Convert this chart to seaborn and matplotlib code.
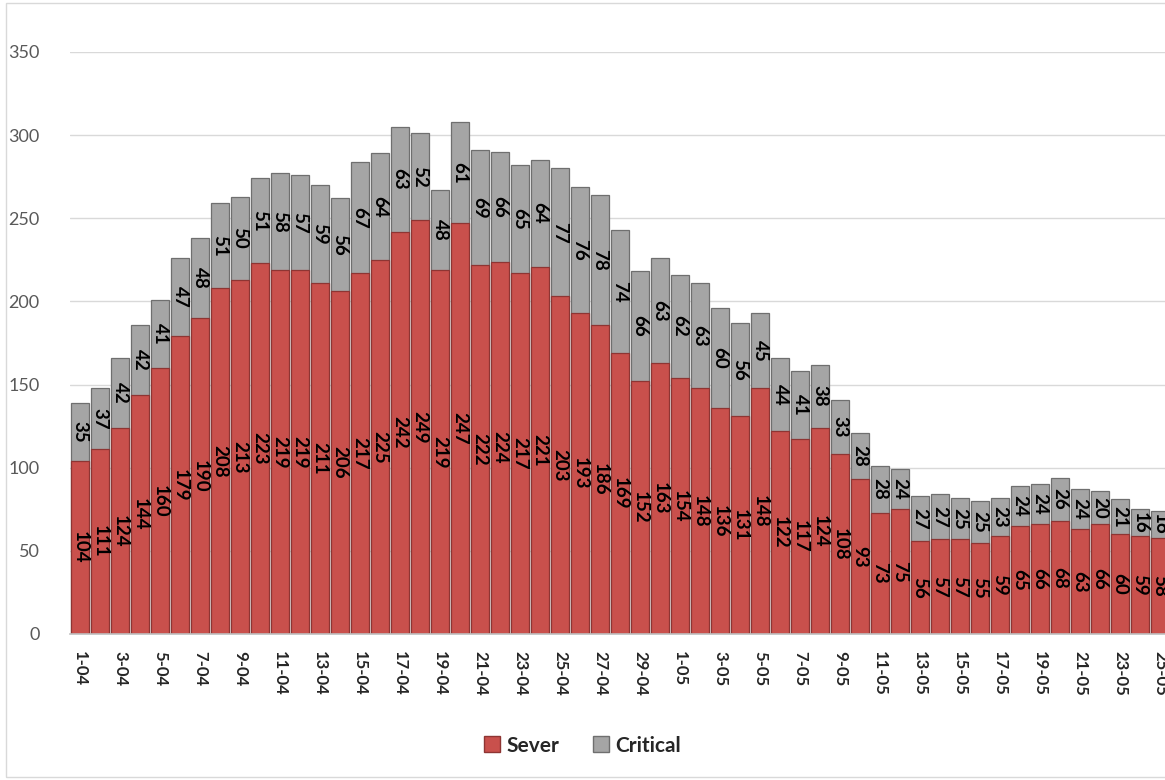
import numpy as np
import pandas as pd
import matplotlib
matplotlib.use('Agg')
import matplotlib.pyplot as plt
import seaborn as sns
from matplotlib.patches import Rectangle, Patch

# dates: 1-04 .. 30-04, 1-05 .. 25-05
days = [f'{d}-04' for d in range(1, 31)] + [f'{d}-05' for d in range(1, 26)]

sever = [104, 111, 124, 144, 160, 179, 190, 208, 213, 223,
         219, 219, 211, 206, 217, 225, 242, 249, 219, 247,
         222, 224, 217, 221, 203, 193, 186, 169, 152, 163,
         154, 148, 136, 131, 148, 122, 117, 124, 108, 93,
         73, 75, 56, 57, 57, 55, 59, 65, 66, 68,
         63, 66, 60, 59, 58]
critical = [35, 37, 42, 42, 41, 47, 48, 51, 50, 51,
            58, 57, 59, 56, 67, 64, 63, 52, 48, 61,
            69, 66, 65, 64, 77, 76, 78, 74, 66, 63,
            62, 63, 60, 56, 45, 44, 41, 38, 33, 28,
            28, 24, 27, 27, 25, 25, 23, 24, 24, 26,
            24, 20, 21, 16, 16]

df = pd.DataFrame({'date': days, 'Sever': sever, 'Critical': critical})
df['total'] = df['Sever'] + df['Critical']

RED = '#C9504C'
GREY = '#A5A5A5'

sns.set_style('white')
plt.rcParams['font.family'] = ['Lato', 'DejaVu Sans']

fig = plt.figure(figsize=(11.65, 7.8), dpi=100)
ax = fig.add_axes([70/1165, 146/780, 1 - 70/1165, (634 - 52)/780])

sns.barplot(data=df, x='date', y='total', color=GREY, width=0.9, saturation=1,
            edgecolor='#6F6F6F', linewidth=0.9, ax=ax)
sns.barplot(data=df, x='date', y='Sever', color=RED, width=0.9, saturation=1,
            edgecolor='#8E3533', linewidth=0.9, ax=ax)

# data labels, centred in each segment
for i, (s, c) in enumerate(zip(sever, critical)):
    ax.text(i, s / 2, str(s), rotation=-90, ha='center', va='center',
            fontsize=13.5, fontweight='bold', color='black')
    ax.text(i, s + c / 2, str(c), rotation=-90, ha='center', va='center',
            fontsize=13.5, fontweight='bold', color='black')

ax.set_xlim(-0.5, 54.25)
ax.set_ylim(0, 350)
ax.set_yticks(range(0, 351, 50))
ax.set_xticks(range(0, 55, 2))
ax.set_xticklabels(days[::2], rotation=-90, fontsize=12, fontweight='bold')
ax.set_xticks(np.arange(-0.5, 55, 2), minor=True)
ax.tick_params(axis='x', which='major', length=0, pad=12)
ax.tick_params(axis='x', which='minor', length=6, color='#BFBFBF', width=1)
ax.tick_params(axis='y', length=0, pad=22, labelsize=13, labelcolor='#595959')
for lab in ax.get_yticklabels():
    lab.set_ha('right')

ax.grid(axis='y', color='#D9D9D9', linewidth=1)
ax.set_axisbelow(True)
for sp in ['top', 'right', 'left']:
    ax.spines[sp].set_visible(False)
ax.spines['bottom'].set_color('#BFBFBF')
ax.spines['bottom'].set_linewidth(1.2)
ax.set_xlabel('')
ax.set_ylabel('')

handles = [Patch(facecolor=RED, edgecolor='#8E3533'),
           Patch(facecolor=GREY, edgecolor='#6F6F6F')]
fig.legend(handles, ['Sever', 'Critical'], loc='center', bbox_to_anchor=(0.5, 0.044),
           ncol=2, frameon=False, prop={'weight': 'bold', 'size': 15},
           handlelength=0.8, handleheight=0.8, handletextpad=0.3, columnspacing=1.6)

# chart border
fig.patches.append(Rectangle((6/1165, 3/780), 1.0, 1 - 6/780, transform=fig.transFigure,
                             fill=False, edgecolor='#D9D9D9', linewidth=1))

fig.savefig('out.png', dpi=100)
